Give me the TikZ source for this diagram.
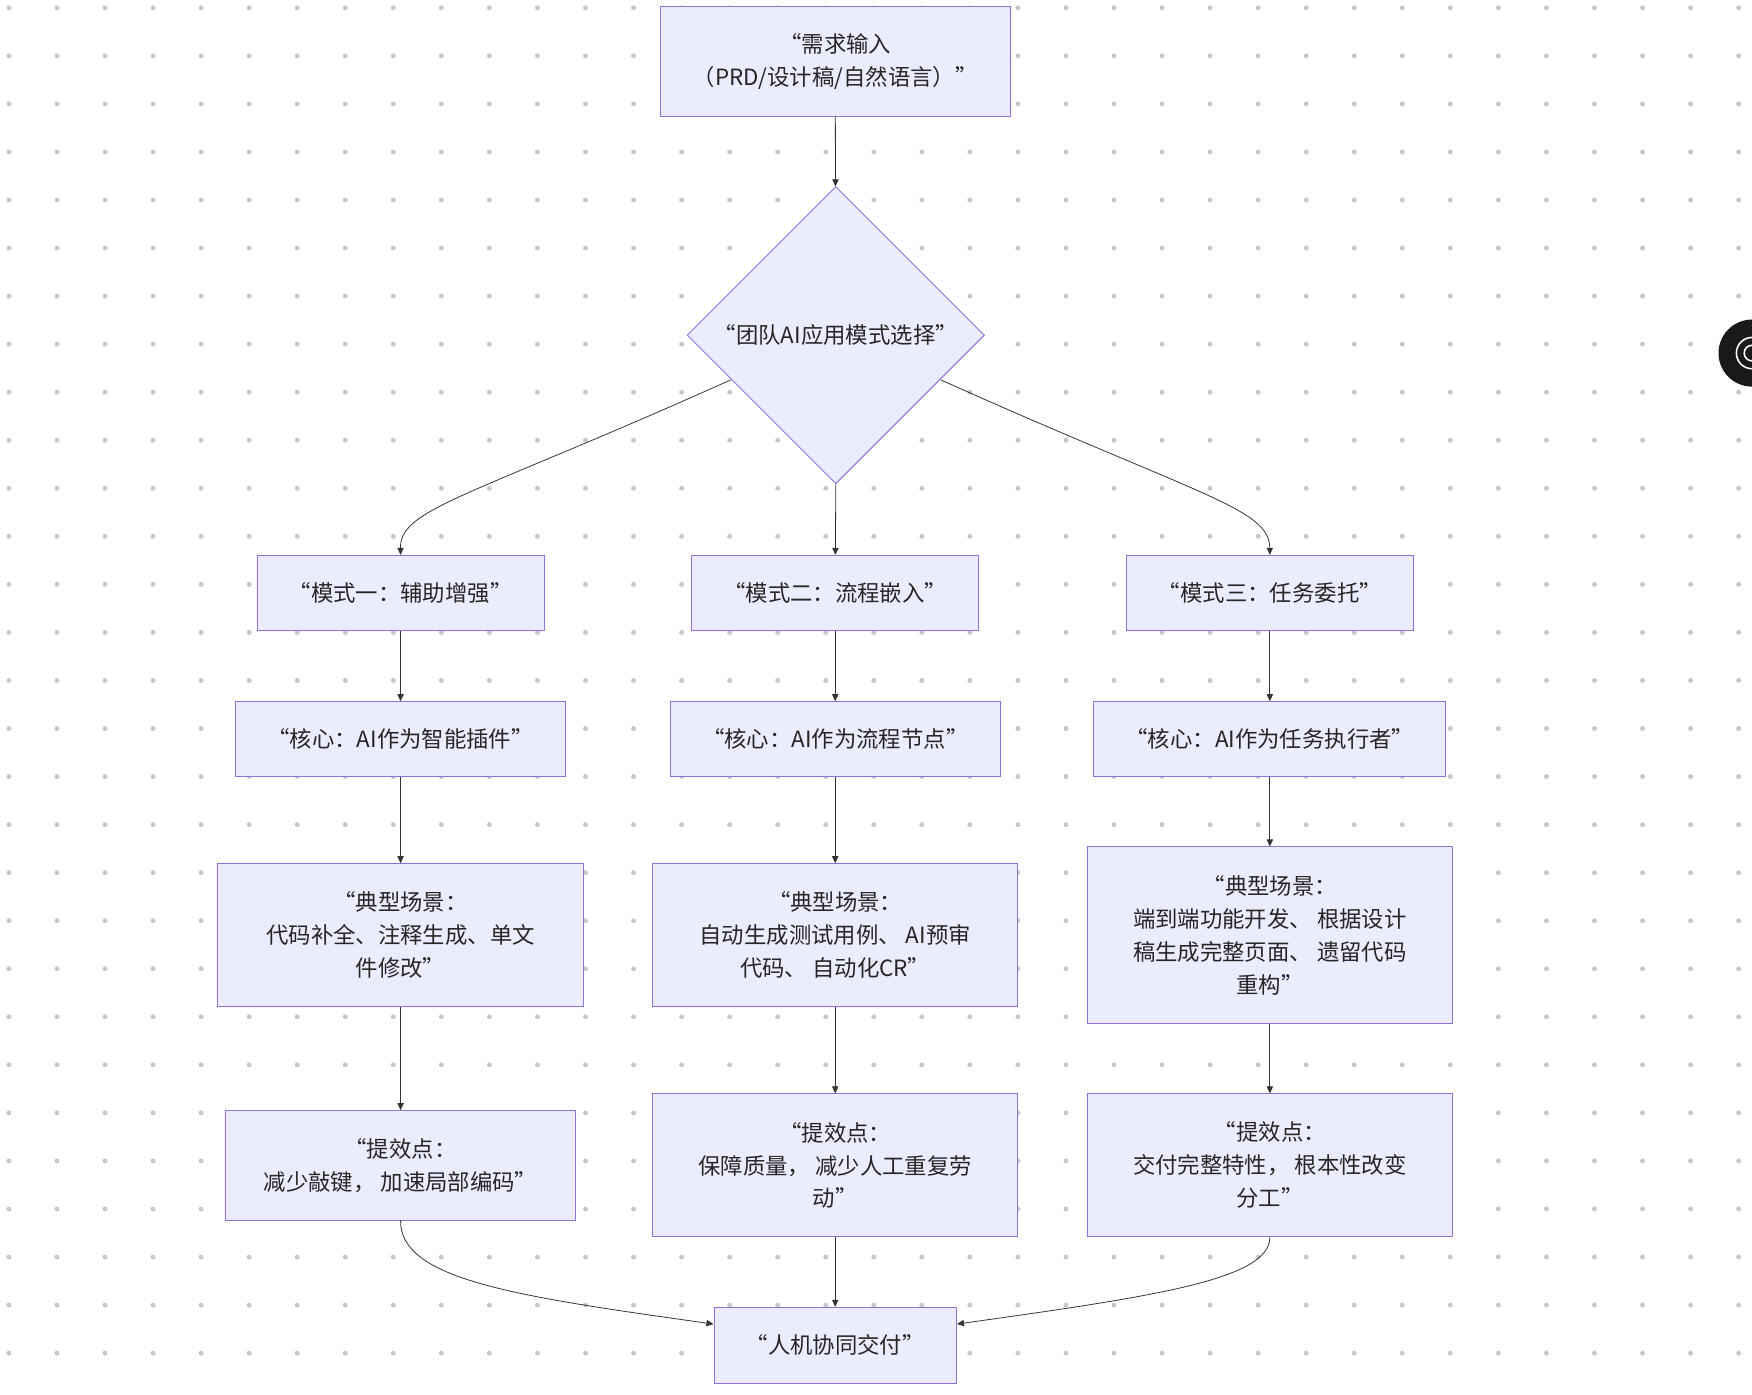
\documentclass[tikz,border=0pt]{standalone}
\usepackage{fontspec}
\setmainfont{Noto Sans CJK SC}
\usetikzlibrary{shapes.geometric,arrows.meta}
\definecolor{nfill}{HTML}{ECECFF}
\definecolor{nstroke}{HTML}{9370DB}
\definecolor{edge}{HTML}{333333}
\begin{document}
\begin{tikzpicture}[x=0.05cm,y=-0.05cm,
  box/.style={draw=nstroke,fill=nfill,line width=1.2pt,inner sep=0,align=center,font=\fontsize{28.5}{42}\selectfont,text=black!85},
  arr/.style={draw=edge,line width=1pt,-{Triangle[length=9pt,width=8pt]}}]
\useasboundingbox (0,0) rectangle (1568,1248);
\fill[white] (0,0) rectangle (1568,1248);
\foreach \i in {0,...,36}{\foreach \j in {0,...,29}{
  \fill[black!22] (8+43*\i,7+43*\j) circle (2.2);}}
\begin{scope}
\clip (0,0) rectangle (1568,1248);
\fill[black!90] (1568,316) circle (30);
\draw[white,line width=2pt] (1568,316) circle (14);
\draw[white,line width=2pt] (1568,316) circle (7);
\end{scope}
\node[box,minimum width=313*0.05cm,minimum height=98*0.05cm] (in) at (747.5,55) {“需求输入\\（PRD/设计稿/自然语言）”};
\node[box,diamond,minimum width=266*0.05cm,minimum height=266*0.05cm,aspect=1] (d) at (748,300) {“团队AI应用模式选择”};
\node[box,minimum width=257*0.05cm,minimum height=67*0.05cm] (m1) at (358.5,530.5) {“模式一：辅助增强”};
\node[box,minimum width=257*0.05cm,minimum height=67*0.05cm] (m2) at (747.5,530.5) {“模式二：流程嵌入”};
\node[box,minimum width=257*0.05cm,minimum height=67*0.05cm] (m3) at (1136.5,530.5) {“模式三：任务委托”};
\node[box,minimum width=295*0.05cm,minimum height=67*0.05cm] (c1) at (358.5,661.5) {“核心：AI作为智能插件”};
\node[box,minimum width=295*0.05cm,minimum height=67*0.05cm] (c2) at (747.5,661.5) {“核心：AI作为流程节点”};
\node[box,minimum width=315*0.05cm,minimum height=67*0.05cm] (c3) at (1136.5,661.5) {“核心：AI作为任务执行者”};
\node[box,minimum width=327*0.05cm,minimum height=128*0.05cm] (s1) at (358.5,837) {“典型场景：\\代码补全、注释生成、单文\\件修改”};
\node[box,minimum width=327*0.05cm,minimum height=128*0.05cm] (s2) at (747.5,837) {“典型场景：\\自动生成测试用例、 AI预审\\代码、 自动化CR”};
\node[box,minimum width=327*0.05cm,minimum height=158*0.05cm] (s3) at (1136.5,837) {“典型场景：\\端到端功能开发、 根据设计\\稿生成完整页面、 遗留代码\\重构”};
\node[box,minimum width=313*0.05cm,minimum height=98*0.05cm] (b1) at (358.5,1043) {“提效点：\\减少敲键， 加速局部编码”};
\node[box,minimum width=327*0.05cm,minimum height=128*0.05cm] (b2) at (747.5,1043) {“提效点：\\保障质量， 减少人工重复劳\\动”};
\node[box,minimum width=327*0.05cm,minimum height=128*0.05cm] (b3) at (1136.5,1043) {“提效点：\\交付完整特性， 根本性改变\\分工”};
\node[box,minimum width=217*0.05cm,minimum height=68*0.05cm] (f) at (747.5,1204) {“人机协同交付”};
\draw[arr] (in) -- (d);
\draw[arr] (d.south) -- (m2);
\draw[arr] (654,340) .. controls (420,445) and (358,455) .. (m1.north);
\draw[arr] (842,340) .. controls (1076,445) and (1136,455) .. (m3.north);
\foreach \a/\b in {m1/c1,m2/c2,m3/c3,c1/s1,c2/s2,c3/s3,s1/b1,s2/b2,s3/b3,b2/f}{\draw[arr] (\a) -- (\b);}
\draw[arr] (b1.south) .. controls (358,1145) and (460,1160) .. (f.west|-0,1185);
\draw[arr] (b3.south) .. controls (1136,1145) and (1035,1160) .. (f.east|-0,1185);
\end{tikzpicture}
\end{document}
